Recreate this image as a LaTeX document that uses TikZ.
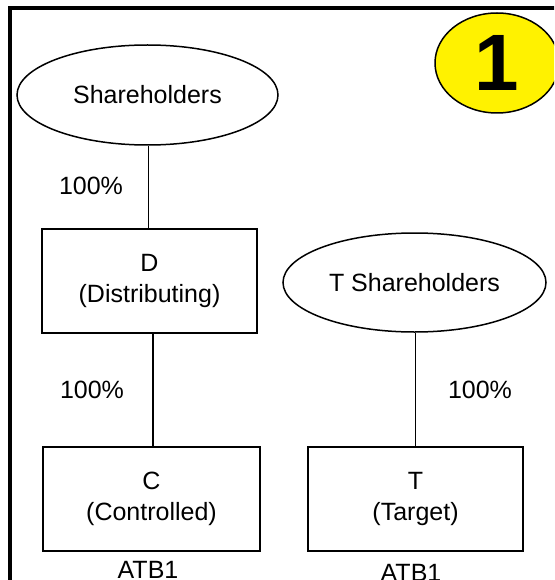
\documentclass[tikz,border=0pt]{standalone}
\usepackage{fontspec}
\setmainfont{Liberation Sans}
\usetikzlibrary{shapes.geometric}
\begin{document}
\begin{tikzpicture}[x=1pt,y=-1pt,
  txt/.style={font=\fontsize{25}{31}\selectfont, inner sep=0pt},
  oval/.style={ellipse, draw, line width=1.5pt, inner sep=0pt, txt},
  entbox/.style={rectangle, draw, line width=1.5pt, inner sep=0pt, align=center, txt},
  link/.style={line width=1.5pt}]
\useasboundingbox (0,0) rectangle (554,580);
\clip (0,0) rectangle (554,580);
\fill[white] (0,0) rectangle (554,580);
% frame
\draw[line width=4pt] (9.5,590) -- (9.5,8) -- (570,8);
% badge
\node[ellipse, draw, fill=yellow, line width=1.5pt, minimum width=124pt, minimum height=100pt, inner sep=0pt,
      font=\fontsize{80}{80}\selectfont\bfseries] (badge) at (497,63) {1};
% ellipses
\node[oval, minimum width=261pt, minimum height=100pt] (sh) at (147.5,95) {Shareholders};
\node[oval, minimum width=263pt, minimum height=99pt] (ts) at (414.5,282.5) {T Shareholders};
% boxes
\node[entbox, minimum width=215pt, minimum height=104pt] (D) at (149.5,281) {D\\(Distributing)};
\node[entbox, minimum width=217pt, minimum height=104pt] (C) at (151.5,499) {C\\(Controlled)};
\node[entbox, minimum width=215pt, minimum height=104pt] (T) at (415.5,499) {T\\(Target)};
% connectors
\draw[link] ([xshift=-1pt]D.north) -- ([xshift=-1pt]D.north |- sh.south);
\draw[link] ([xshift=3.5pt]D.south) -- ([xshift=3.5pt]D.south |- C.north);
\draw[link] (T.north) -- (T.north |- ts.south);
% labels
\node[txt] (p1) at (91,186) {100\%};
\node[txt] (p2) at (92,390) {100\%};
\node[txt] (p3) at (480,390) {100\%};
\node[txt, anchor=north] (a1) at (148,561) {ATB1};
\node[txt, anchor=north] (a2) at (411,564) {ATB1};
\end{tikzpicture}
\end{document}
